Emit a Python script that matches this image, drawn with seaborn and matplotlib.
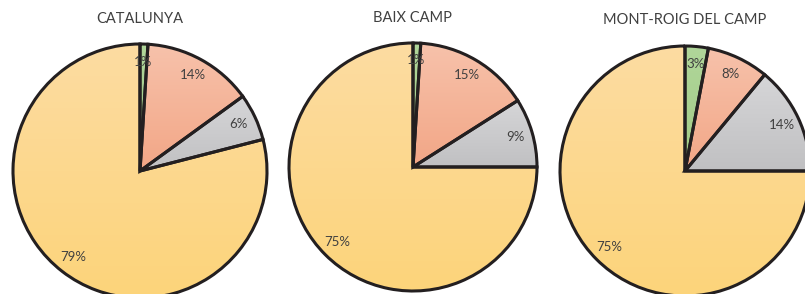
import numpy as np
import seaborn as sns
import matplotlib.pyplot as plt
from matplotlib.colors import LinearSegmentedColormap

sns.set_theme(style="white")
plt.rcParams['font.family'] = ['Lato', 'DejaVu Sans']

# Dades
titols = ['CATALUNYA', 'BAIX CAMP', 'MONT-ROIG DEL CAMP']
catalunya = [1, 14, 6, 79]
baix_camp = [1, 15, 9, 75]
mont_roig = [3, 8, 14, 75]
valors = [catalunya, baix_camp, mont_roig]

# colors del degradat (dalt, baix) per a cada sector
degradats = [('#b0d69a', '#a2cc86'),
             ('#f7c2ab', '#f2a686'),
             ('#d6d6d8', '#c0c0c2'),
             ('#fddca2', '#fcd47a')]

W, H = 805, 294
# centre i radi de cada pastís en píxels (y des de dalt)
centres = [(140, 171, 127), (413, 167, 124), (685, 171, 125)]
pos_titol = [(140, 19), (412, 18), (685, 20)]

fig = plt.figure(figsize=(W / 100, H / 100), dpi=100)

for vals, titol, (cx, cy, r), (tx, ty) in zip(valors, titols, centres, pos_titol):
    ax = fig.add_axes([0, 0, 1, 1])
    ax.patch.set_alpha(0)
    wedges, textos, autotextos = ax.pie(
        vals, startangle=90, counterclock=False, autopct='%.0f%%',
        pctdistance=0.86, labels=None,
        wedgeprops=dict(facecolor='none', edgecolor='#231f20', linewidth=2.2),
        textprops=dict(color='#404040', fontsize=9.5))
    for w, (c1, c2) in zip(wedges, degradats):
        v = w.get_path().vertices
        x0, x1 = v[:, 0].min(), v[:, 0].max()
        y0, y1 = v[:, 1].min(), v[:, 1].max()
        cmap = LinearSegmentedColormap.from_list('g', [c2, c1])
        grad = np.linspace(0, 1, 256).reshape(-1, 1)
        im = ax.imshow(grad, cmap=cmap, extent=[x0, x1, y0, y1],
                       origin='lower', aspect='auto', zorder=0.5)
        im.set_clip_path(w)
        w.set_zorder(1)
    for t in autotextos:
        t.set_zorder(3)
    cyb = H - cy
    ax.set_xlim(-cx / r, (W - cx) / r)
    ax.set_ylim(-cyb / r, (H - cyb) / r)
    ax.set_aspect('auto')
    ax.axis('off')
    fig.text(tx / W, 1 - ty / H, titol, ha='center', va='center',
             fontsize=10.5, color='#404040')

fig.savefig('out.png', dpi=100)
